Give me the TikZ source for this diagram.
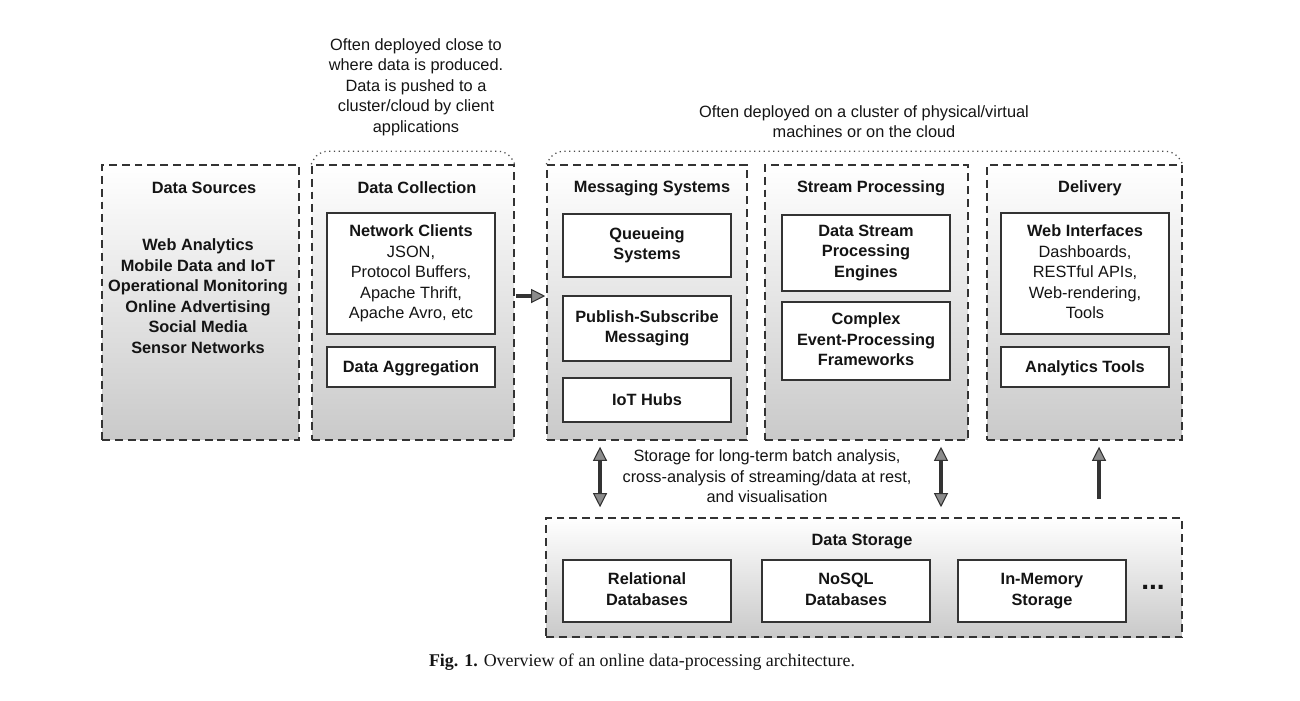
\documentclass[tikz,border=0pt]{standalone}
\usepackage{fontspec}
\setmainfont{Liberation Sans}
\newfontfamily\capfont{Liberation Serif}
\usetikzlibrary{arrows.meta}

\tikzset{
  panel/.style={draw=black!80, line width=0.9pt, dash pattern=on 4.5pt off 2.8pt,
    top color=white, bottom color=black!21},
  inbox/.style={draw=black!80, line width=0.8pt, fill=white, align=center,
    font=\fontsize{9.3}{11.7}\selectfont\bfseries, minimum width=3.36cm,
    execute at begin node=\rule{0pt}{8.7pt}, execute at end node=\rule[-2pt]{0pt}{2pt}},
  lowtxt/.style={execute at begin node=\rule{0pt}{12pt}},
  ttl/.style={font=\fontsize{9.3}{11.7}\selectfont\bfseries},
  note/.style={align=center},
  brc/.style={draw=black!70, line width=0.7pt, dotted, rounded corners=5pt},
  arr/.style={draw=black!80, line width=2pt,
    -{Triangle[width=8pt,length=8pt,fill=black!45,line width=0.6pt]}},
  dbl/.style={draw=black!80, line width=2pt,
    {Triangle[width=8pt,length=8pt,fill=black!45,line width=0.6pt]}-{Triangle[width=8pt,length=8pt,fill=black!45,line width=0.6pt]}}
}

\begin{document}
\begin{tikzpicture}[x=0.02cm, y=-0.02cm, text=black!92,
  every node/.style={font=\fontsize{9.3}{11.7}\selectfont}]

  \useasboundingbox (0,0) rectangle (1300,700);

  % Panels
  \node[panel, minimum width=3.94cm,  minimum height=5.5cm]  (src) at (200.5,302.5) {};
  \node[panel, minimum width=4.04cm,  minimum height=5.5cm]  (col) at (413,302.5) {};
  \node[panel, minimum width=4.0cm,   minimum height=5.5cm]  (msg) at (647,302.5) {};
  \node[panel, minimum width=4.06cm,  minimum height=5.5cm]  (stp) at (866.5,302.5) {};
  \node[panel, minimum width=3.9cm,   minimum height=5.5cm]  (dlv) at (1084.5,302.5) {};
  \node[panel, minimum width=12.72cm, minimum height=2.38cm] (sto) at (864,577.5) {};

  % Panel titles
  \node[ttl] (srcT) at (204,188) {Data Sources};
  \node[ttl] (colT) at (417,188) {Data Collection};
  \node[ttl] (msgT) at (652,188) {Messaging Systems};
  \node[ttl] (stpT) at (871,188) {Stream Processing};
  \node[ttl] (dlvT) at (1090,188) {Delivery};
  \node[ttl] (stoT) at (862,542) {Data Storage};

  % Data sources
  \node[note, font=\fontsize{9.3}{11.7}\selectfont\bfseries] (srcL) at (198,296)
    {Web Analytics\\Mobile Data and IoT\\Operational Monitoring\\Online Advertising\\Social Media\\Sensor Networks};

  % Inner boxes
  \node[inbox, minimum height=2.42cm] (netc) at (411,273.5)
    {Network Clients\\\mdseries JSON,\\\mdseries Protocol Buffers,\\\mdseries Apache Thrift,\\\mdseries Apache Avro, etc};
  \node[inbox, minimum height=0.8cm]  (aggr) at (411,367) {Data Aggregation};

  \node[inbox, minimum height=1.26cm] (queue)  at (647,245.5) {Queueing\\Systems};
  \node[inbox, minimum height=1.3cm]  (pubsub) at (647,328.5) {Publish-Subscribe\\Messaging};
  \node[inbox, minimum height=0.88cm] (iot)    at (647,400) {IoT Hubs};

  \node[inbox, lowtxt, minimum height=1.52cm] (dspe) at (866,253) {Data Stream\\Processing\\Engines};
  \node[inbox, minimum height=1.56cm] (cep)  at (866,341) {Complex\\Event-Processing\\Frameworks};

  \node[inbox, minimum height=2.42cm] (web)   at (1085,273.5)
    {Web Interfaces\\\mdseries Dashboards,\\\mdseries RESTful APIs,\\\mdseries Web-rendering,\\\mdseries Tools};
  \node[inbox, minimum height=0.8cm]  (atool) at (1085,367) {Analytics Tools};

  \node[inbox, lowtxt, minimum height=1.24cm] (rdb)   at (647,591)  {Relational\\Databases};
  \node[inbox, lowtxt, minimum height=1.24cm] (nosql) at (846,591)  {NoSQL\\Databases};
  \node[inbox, lowtxt, minimum height=1.24cm] (inmem) at (1042,591) {In-Memory\\Storage};
  \node[font=\fontsize{16}{16}\selectfont\bfseries] (more) at (1153,587) {...};

  % Notes
  \node[note] (noteL) at (416,87)
    {Often deployed close to\\where data is produced.\\Data is pushed to a\\cluster/cloud by client\\applications};
  \node[note] (noteR) at (864,121.5)
    {Often deployed on a cluster of physical/virtual\\machines or on the cloud};
  \node[note] (noteS) at (767,476.5)
    {Storage for long-term batch analysis,\\cross-analysis of streaming/data at rest,\\and visualisation};

  % Dotted braces
  \draw[brc] (col.north west) -- ++(7,-13) -- ([shift={(-7,-13)}]col.north east) -- (col.north east);
  \draw[brc] (msg.north west) -- ++(8,-13) -- ([shift={(-8,-13)}]dlv.north east) -- (dlv.north east);

  % Arrows
  \draw[arr, shorten <=0.02cm, shorten >=0.02cm] ([yshift=0.13cm]col.east) -- ([yshift=0.13cm]msg.west);
  \draw[dbl, shorten <=0.12cm, shorten >=0.2cm]
    ([xshift=-0.94cm]msg.south) -- ([xshift=-0.94cm]msg.south |- sto.north);
  \draw[dbl, shorten <=0.12cm, shorten >=0.2cm]
    ([xshift=1.49cm]stp.south) -- ([xshift=1.49cm]stp.south |- sto.north);
  \draw[arr, shorten <=0.36cm, shorten >=0.12cm]
    ([xshift=0.29cm]dlv.south |- sto.north) -- ([xshift=0.29cm]dlv.south);

  % Caption
  \node[font=\capfont\fontsize{10.2}{12}\selectfont] (cap) at (642,662)
    {\textbf{Fig. 1.} Overview of an online data-processing architecture.};

\end{tikzpicture}
\end{document}
